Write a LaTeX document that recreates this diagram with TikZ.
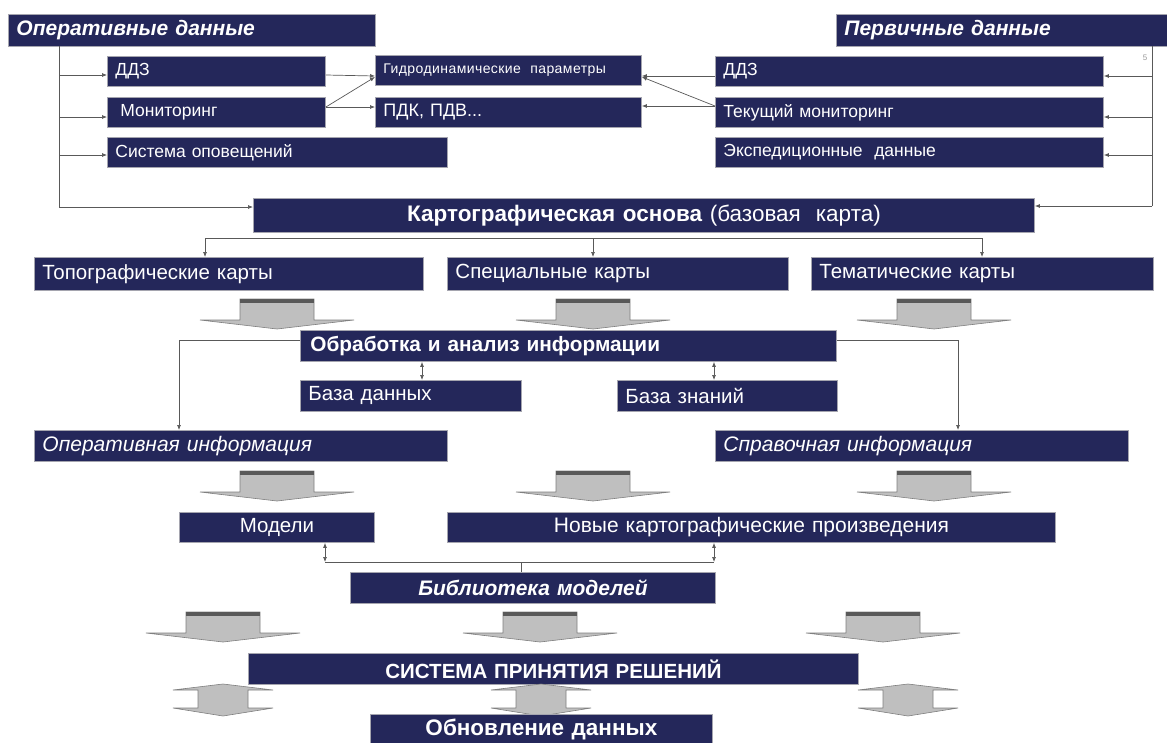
\documentclass[tikz,border=0pt]{standalone}
\usepackage{fontspec}
\setmainfont{Liberation Sans}
\usetikzlibrary{arrows.meta}
\definecolor{navy}{RGB}{36,39,90}
\definecolor{boxline}{RGB}{165,165,175}
\begin{document}
\begin{tikzpicture}[x=1pt,y=-1pt,
  box/.style={fill=navy, draw=boxline, line width=0.9pt, text=white, inner xsep=8pt, inner ysep=0pt, anchor=north west, align=left, font=\fontsize{20.5}{22}\selectfont},
  small/.style={font=\fontsize{17.5}{20}\selectfont},
  head/.style={font=\fontsize{21}{22}\selectfont\bfseries\itshape},
  centred/.style={align=center},
  conn/.style={draw=black!65, line width=0.7pt},
  arr/.style={conn, -{Latex[length=5pt,width=4pt]}},
  darr/.style={conn, {Latex[length=5pt,width=4pt]}-{Latex[length=5pt,width=4pt]}},
  blockarrow/.pic={
    \path[fill=black!25, draw=black!50, line width=0.6pt] (-37,0) -- (37,0) -- (37,21) -- (77,21) -- (0,30) -- (-77,21) -- (-37,21) -- cycle;
    \fill[black!65] (-37,0) rectangle (37,4);
  },
  dblarrow/.pic={
    \path[fill=black!25, draw=black!50, line width=0.6pt] (0,0) -- (50,6) -- (25,6) -- (25,24) -- (50,24) -- (0,32) -- (-50,24) -- (-25,24) -- (-25,6) -- (-50,6) -- cycle;
  }
]
\useasboundingbox[fill=white] (0,0) rectangle (1167,742);

% top row
\node[box, head, text width=351pt, minimum height=32pt] (op) at (8,14) {Оперативные данные};
\node[box, head, text width=330pt, minimum height=32pt] (perv) at (836,14) {Первичные данные};

\node[box, small, text width=202pt, minimum height=30pt] (lddz) at (107,56) {ДДЗ};
\node[box, small, text width=202pt, minimum height=30pt] (lmon) at (107,97) {\hspace*{5pt}Мониторинг};
\node[box, small, text width=324pt, minimum height=30pt] (lsys) at (107,137) {Система оповещений};

\node[box, font=\fontsize{14}{16}\selectfont\addfontfeature{LetterSpace=3}, text width=250pt, minimum height=30pt] (gidro) at (375,55) {Гидродинамические\ \ параметры};
\node[box, font=\fontsize{18}{20}\selectfont, text width=250pt, minimum height=30pt] (pdk) at (375,97) {ПДК, ПДВ...};

\node[box, small, text width=372pt, minimum height=30pt] (rddz) at (715,56) {ДДЗ};
\node[box, small, text width=372pt, minimum height=30pt] (rtek) at (715,97) {Текущий мониторинг};
\node[box, small, text width=372pt, minimum height=30pt] (rexp) at (715,137) {Экспедиционные\ \ данные};
\node[text=black!40, font=\fontsize{8}{9}\selectfont, inner sep=0pt] (five) at (1145,58) {5};

% cartographic base
\node[box, centred, font=\fontsize{22.5}{24}\selectfont, text width=765pt, minimum height=34pt] (karto) at (253,198) {\textbf{Картографическая основа} (базовая\ \ карта)};

\node[box, text width=373pt, minimum height=33pt] (topo) at (34,257) {Топографические карты};
\node[box, text width=325pt, minimum height=33pt] (spec) at (447,257) {Специальные карты};
\node[box, text width=326pt, minimum height=33pt] (tema) at (811,257) {Тематические карты};

\pic at (277,299) {blockarrow};
\pic at (593,299) {blockarrow};
\pic at (934,299) {blockarrow};

\node[box, font=\fontsize{20.8}{22}\selectfont\bfseries, inner xsep=10pt, text width=516pt, minimum height=31pt] (obr) at (300,330) {Обработка и анализ информации};
\node[box, text width=205pt, minimum height=31pt] (bd) at (300,380) {База данных};
\node[box, text width=204pt, minimum height=31pt] (bz) at (617,380) {База знаний};

\node[box, font=\fontsize{21}{22}\selectfont\itshape, text width=397pt, minimum height=31pt] (opi) at (34,430) {Оперативная информация};
\node[box, font=\fontsize{21}{22}\selectfont\itshape, text width=397pt, minimum height=31pt] (spr) at (715,430) {Справочная информация};

\pic at (277,471) {blockarrow};
\pic at (593,471) {blockarrow};
\pic at (934,471) {blockarrow};

\node[box, centred, text width=179pt, minimum height=30pt] (mod) at (179,512) {Модели};
\node[box, centred, font=\fontsize{21}{22}\selectfont, text width=592pt, minimum height=30pt] (nov) at (447,512) {Новые картографические произведения};

\node[box, centred, font=\fontsize{21}{22}\selectfont\bfseries\itshape, text width=349pt, minimum height=31pt] (bib) at (350,572) {Библиотека моделей};

\pic at (223,612) {blockarrow};
\pic at (540,612) {blockarrow};
\pic at (883,612) {blockarrow};

\node[box, centred, font=\fontsize{20.5}{22}\selectfont\bfseries, text width=594pt, minimum height=31pt] (sys) at (248,653) {СИСТЕМА ПРИНЯТИЯ РЕШЕНИЙ};

\pic at (223,684) {dblarrow};
\pic at (541,684) {dblarrow};
\pic at (908,684) {dblarrow};

\node[box, centred, font=\fontsize{22.5}{24}\selectfont\bfseries, text width=326pt, minimum height=30pt] (upd) at (370,714) {Обновление данных};

% connectors: left trunk
\coordinate (ltop) at (59,46);
\coordinate (lbot) at (59,207);
\draw[conn] (ltop) -- (lbot);
\draw[arr] (lbot) -- (lbot -| karto.west);
\draw[arr] (ltop |- 0,75) -- (lddz.west |- 0,75);
\draw[arr] (ltop |- 0,117) -- (lmon.west |- 0,117);
\draw[arr] (ltop |- 0,155) -- (lsys.west |- 0,155);

% right trunk
\coordinate (rtop) at (1152,46);
\coordinate (rbot) at (1152,206);
\draw[conn] (rtop) -- (rbot);
\draw[arr, shorten >=-8pt] (rbot) -- ([xshift=8pt]karto.east |- rbot);
\draw[arr] (rtop |- 0,76) -- (rddz.east |- 0,76);
\draw[arr] (rtop |- 0,117) -- (rtek.east |- 0,117);
\draw[arr] (rtop |- 0,155) -- (rexp.east |- 0,155);

% middle links
\draw[arr] (lddz.east |- 0,75) -- (gidro.west |- 0,76);
\draw[arr] (lmon.east |- 0,107) -- (gidro.west |- 0,77);
\draw[arr] (lmon.east |- 0,107) -- (pdk.west |- 0,107);
\draw[arr] (rddz.west |- 0,76) -- (gidro.east |- 0,76);
\draw[arr] (rtek.west |- 0,106) -- (gidro.east |- 0,77);
\draw[arr] (rtek.west |- 0,106) -- (pdk.east |- 0,106);

% karto split
\coordinate (kl) at (205,238);
\coordinate (km) at (593,238);
\coordinate (kr) at (982,238);
\draw[conn] (kl) -- (kr);
\draw[arr] (kl) -- (kl |- topo.north);
\draw[arr] (km) -- (km |- spec.north);
\draw[arr] (kr) -- (kr |- tema.north);

% processing
\coordinate (oL) at (179,340);
\coordinate (oR) at (958,340);
\draw[arr] (obr.west |- oL) -- (oL) -- (oL |- opi.north);
\draw[arr] (obr.east |- oR) -- (oR) -- (oR |- spr.north);
\coordinate (bdx) at (422,380);
\coordinate (bzx) at (714,380);
\draw[darr] (bdx |- obr.south) -- (bdx);
\draw[darr] (bzx |- obr.south) -- (bzx);

% models
\coordinate (mj) at (325,562);
\coordinate (nj) at (714,562);
\coordinate (bj) at (521,562);
\draw[darr] (mj |- mod.south) -- (mj);
\draw[darr] (nj |- nov.south) -- (nj);
\draw[conn] (mj) -- (nj);
\draw[conn] (bj) -- (bj |- bib.north);
\end{tikzpicture}
\end{document}
